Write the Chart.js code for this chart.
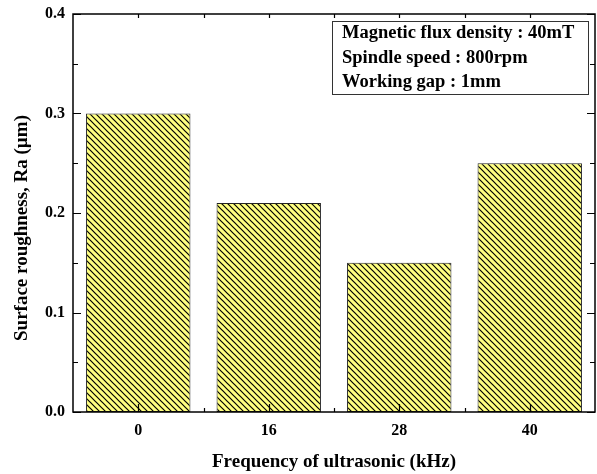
<!DOCTYPE html>
<html>
<head>
<meta charset="utf-8">
<script src="https://cdn.jsdelivr.net/npm/chart.js@4.4.1/dist/chart.umd.min.js"></script>
<style>
  html, body { margin: 0; padding: 0; background: #ffffff; }
  #wrap { width: 597px; height: 474px; }
</style>
</head>
<body>
<div id="wrap"><canvas id="c" width="597" height="474"></canvas></div>
<script>
// ---- data ----
const categories = ['0', '16', '28', '40'];
const roughness = [0.30, 0.21, 0.15, 0.25];
const yTickValues = [0.0, 0.1, 0.2, 0.3, 0.4];
const xTitle = 'Frequency of ultrasonic (kHz)';
const yTitle = 'Surface roughness, Ra (\u00b5m)';
const noteLines = ['Magnetic flux density : 40mT', 'Spindle speed : 800rpm', 'Working gap : 1mm'];

const SERIF = '"Liberation Serif", "Times New Roman", serif';

function makeHatch() {
  const s = 6;
  const p = document.createElement('canvas');
  p.width = s; p.height = s;
  const g = p.getContext('2d');
  g.fillStyle = '#ffff80';
  g.fillRect(0, 0, s, s);
  g.strokeStyle = '#000000';
  g.lineWidth = 1.2;
  g.beginPath();
  g.moveTo(-1, -1); g.lineTo(s + 1, s + 1);
  g.moveTo(-1, s - 1); g.lineTo(1, s + 1);
  g.moveTo(s - 1, -1); g.lineTo(s + 1, 1);
  g.stroke();
  return g.createPattern(p, 'repeat');
}

const framePlugin = {
  id: 'frame',
  afterDraw(chart) {
    const {ctx, chartArea: {left, right, top, bottom}, scales: {x, y}} = chart;
    ctx.save();
    ctx.strokeStyle = '#000000';
    ctx.lineWidth = 1.5;
    ctx.strokeRect(left, top, right - left, bottom - top);
    ctx.lineWidth = 1.2;
    ctx.beginPath();
    // y ticks (major and minor), mirrored left/right
    for (let k = 0; k <= 8; k++) {
      const v = k * 0.05;
      const py = Math.round(y.getPixelForValue(v)) + 0.5;
      const len = (k % 2 === 0) ? 8 : 5;
      ctx.moveTo(left, py); ctx.lineTo(left + len, py);
      ctx.moveTo(right, py); ctx.lineTo(right - len, py);
    }
    // x ticks: majors at categories, minors in between
    for (let i = 0; i < categories.length; i++) {
      const px = Math.round(x.getPixelForValue(i)) + 0.5;
      ctx.moveTo(px, bottom); ctx.lineTo(px, bottom - 8);
      ctx.moveTo(px, top); ctx.lineTo(px, top + 4);
      if (i < categories.length - 1) {
        const mx = Math.round((x.getPixelForValue(i) + x.getPixelForValue(i + 1)) / 2) + 0.5;
        ctx.moveTo(mx, bottom); ctx.lineTo(mx, bottom - 4);
        ctx.moveTo(mx, top); ctx.lineTo(mx, top + 4);
      }
    }
    ctx.stroke();

    // y title
    ctx.fillStyle = '#000000';
    ctx.font = 'bold 19px ' + SERIF;
    ctx.textAlign = 'center';
    ctx.textBaseline = 'middle';
    ctx.save();
    ctx.translate(22, 228);
    ctx.rotate(-Math.PI / 2);
    ctx.fillText(yTitle, 0, 0);
    ctx.restore();

    // note box
    ctx.fillStyle = '#ffffff';
    ctx.fillRect(332, 21, 257, 74);
    ctx.strokeStyle = '#333333';
    ctx.lineWidth = 1;
    ctx.strokeRect(332.5, 21.5, 256, 73);
    ctx.fillStyle = '#000000';
    ctx.textAlign = 'left';
    ctx.textBaseline = 'alphabetic';
    ctx.font = 'bold 18.5px ' + SERIF;
    noteLines.forEach((t, i) => ctx.fillText(t, 342, 38 + i * 24.5));
    ctx.restore();
  }
};

new Chart(document.getElementById('c'), {
  type: 'bar',
  data: {
    labels: categories,
    datasets: [{
      data: roughness,
      backgroundColor: makeHatch(),
      borderColor: '#222222',
      borderWidth: 1,
      borderSkipped: false,
      barPercentage: 0.8,
      categoryPercentage: 1.0
    }]
  },
  options: {
    responsive: false,
    animation: false,
    devicePixelRatio: 1,
    layout: { padding: { top: 14, right: 2, left: 0, bottom: 0 } },
    plugins: { legend: { display: false }, tooltip: { enabled: false } },
    scales: {
      x: {
        grid: { display: false },
        border: { display: false },
        ticks: { color: '#000', font: { family: SERIF, size: 16, weight: 'bold' }, padding: 1 },
        title: { display: true, text: xTitle, color: '#000', font: { family: SERIF, size: 19, weight: 'bold' }, padding: { top: 0, bottom: 1 } },
        afterFit(s) { s.height = 62; }
      },
      y: {
        min: 0, max: 0.4,
        grid: { display: false },
        border: { display: false },
        afterBuildTicks(s) { s.ticks = yTickValues.map(v => ({ value: v })); },
        ticks: { color: '#000', font: { family: SERIF, size: 16, weight: 'bold' }, padding: 0,
                 callback: v => Number(v).toFixed(1) },
        afterFit(s) { s.width = 73; }
      }
    }
  },
  plugins: [framePlugin]
});
</script>
</body>
</html>
